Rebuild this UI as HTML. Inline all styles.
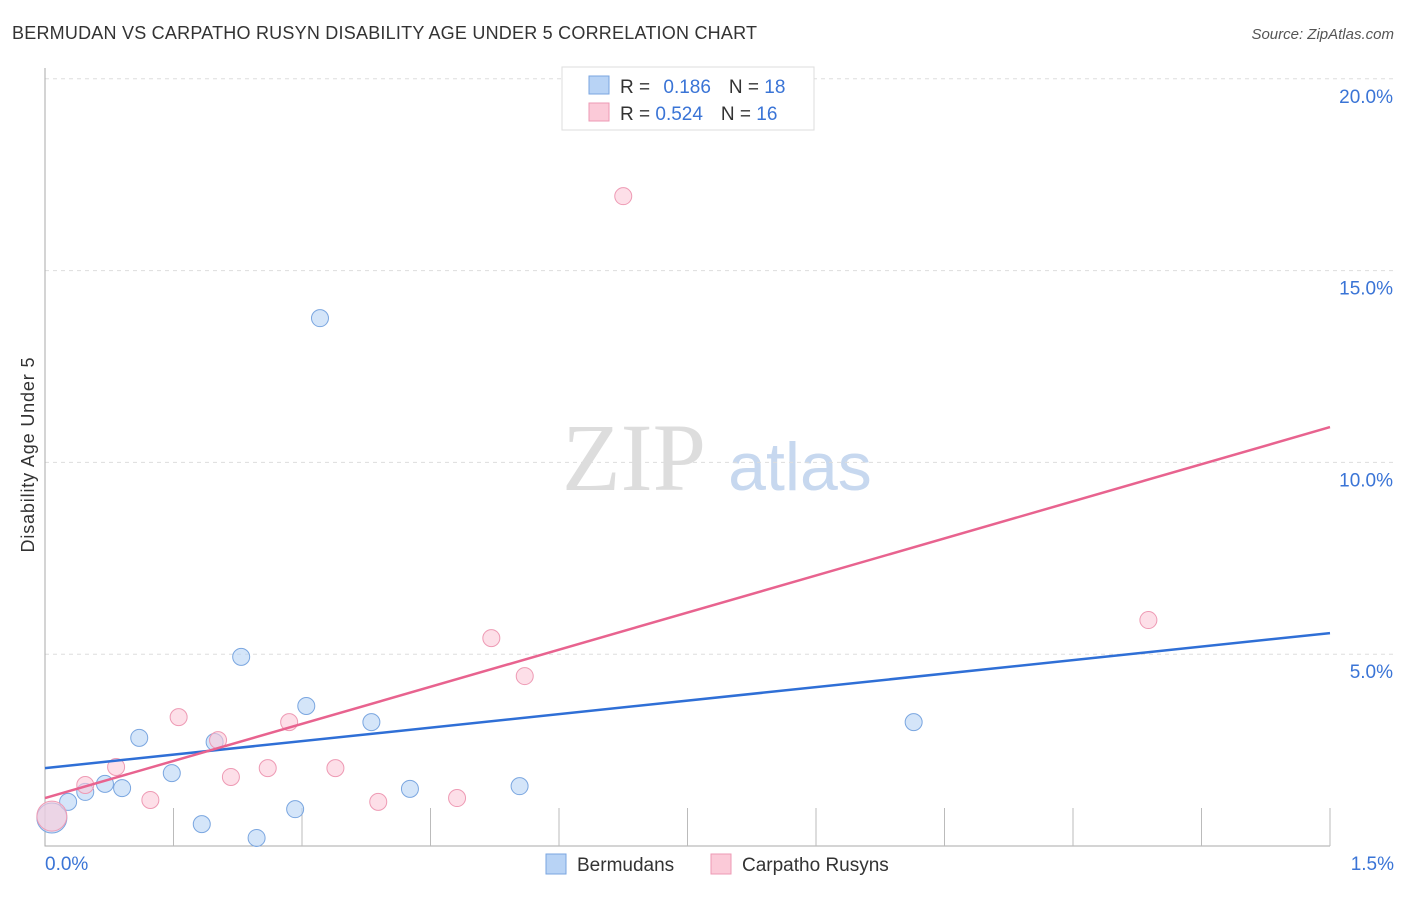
<!DOCTYPE html>
<html><head><meta charset="utf-8"><style>
body{margin:0;background:#fff;font-family:"Liberation Sans",sans-serif}
</style></head><body>
<svg width="1406" height="892" xmlns="http://www.w3.org/2000/svg" font-family="Liberation Sans, sans-serif">
<text x="12" y="39" font-size="18" fill="#333" textLength="745">BERMUDAN VS CARPATHO RUSYN DISABILITY AGE UNDER 5 CORRELATION CHART</text>
<text x="1394" y="39" font-size="15" fill="#555" font-style="italic" text-anchor="end">Source: ZipAtlas.com</text>
<text x="634" y="490" font-size="96" fill="#ddd" font-family="Liberation Serif, serif" text-anchor="middle">ZIP</text>
<text x="800" y="490" font-size="68" fill="#c7d8ef" text-anchor="middle">atlas</text>
<text transform="translate(34,455) rotate(-90)" font-size="18" fill="#333" text-anchor="middle" textLength="195">Disability Age Under 5</text>
<g id="grid"></g><g id="axes"></g><g id="marks"></g>
<g>
<rect x="562" y="67" width="252" height="63" fill="#fff" stroke="#ddd"/>
<rect x="589" y="76" width="20" height="18" fill="#b8d3f5" stroke="#7aa6e0"/>
<text x="620" y="93" font-size="19" fill="#333">R = <tspan fill="#3a74d6" dx="8">0.186</tspan><tspan dx="18">N = </tspan><tspan fill="#3a74d6">18</tspan></text>
<rect x="589" y="103" width="20" height="18" fill="#fbcad8" stroke="#ee9ab4"/>
<text x="620" y="120" font-size="19" fill="#333">R = <tspan fill="#3a74d6">0.524</tspan><tspan dx="18">N = </tspan><tspan fill="#3a74d6">16</tspan></text>
</g>
<g>
<rect x="546" y="854" width="20" height="20" fill="#b8d3f5" stroke="#7aa6e0"/>
<text x="577" y="871" font-size="19" fill="#333">Bermudans</text>
<rect x="711" y="854" width="20" height="20" fill="#fbcad8" stroke="#ee9ab4"/>
<text x="742" y="871" font-size="19" fill="#333">Carpatho Rusyns</text>
</g>
</svg>
<script>
const blueX=[0.008,0.027,0.047,0.070,0.090,0.110,0.148,0.183,0.198,0.229,0.247,0.292,0.305,0.321,0.381,0.426,0.554,1.014];
const blueY=[0.73,1.15,1.41,1.62,1.51,2.82,1.90,0.57,2.71,4.93,0.21,0.96,3.65,13.76,3.23,1.49,1.56,3.23];
const pinkX=[0.008,0.047,0.083,0.123,0.156,0.202,0.217,0.260,0.285,0.339,0.389,0.481,0.521,0.560,0.675,1.288];
const pinkY=[0.78,1.59,2.06,1.20,3.36,2.76,1.80,2.03,3.23,2.03,1.15,1.25,5.42,4.43,16.94,5.89];
const blueTrend=[2.03,5.55];
const pinkTrend=[1.25,10.92];
const yTicks=[5,10,15,20];
const xTickLabels=["0.0%","1.5%"];
const NS="http://www.w3.org/2000/svg";
const sx=v=>45+v/1.5*1285, sy=v=>846-v*38.36;
function mk(t,a,p){const e=document.createElementNS(NS,t);for(const k in a)e.setAttribute(k,a[k]);p.appendChild(e);return e;}
const grid=document.getElementById('grid'),axes=document.getElementById('axes'),marks=document.getElementById('marks');
yTicks.forEach(v=>{
 const l=mk('line',{x1:45,x2:1395,y1:sy(v),y2:sy(v),stroke:'#ddd','stroke-dasharray':'4,4'},grid);
 
 
 const t=mk('text',{x:1393,y:sy(v)+24,'font-size':19,fill:'#3a74d6','text-anchor':'end'},axes);
 t.textContent=v.toFixed(1)+'%';
 
 
});
const ax=mk('path',{d:'M45,68V846H1330',stroke:'#aaa',fill:'none'},axes);


for(let i=1;i<=10;i++){const x=sx(i*0.15);const tk=mk('line',{x1:x,x2:x,y1:808,y2:846,stroke:'#bbb'},axes);
 
 }
[[0,45,'start'],[1.5,1394,'end']].forEach((d,i)=>{const t=mk('text',{x:d[1],y:870,'font-size':19,fill:'#3a74d6','text-anchor':d[2]},axes);t.textContent=xTickLabels[i];
 
 });
function pts(X,Y,fill,stroke,name){X.forEach((x,i)=>{const r=i===0?15:8.5;const c=mk('circle',{cx:sx(x),cy:sy(Y[i]),r:r,fill:fill,stroke:stroke,'fill-opacity':0.6},marks);
 
 });}
pts(blueX,blueY,'#b8d3f5','#7aa6e0','bermudan-point');
pts(pinkX,pinkY,'#fbcad8','#ee9ab4','carpatho-rusyn-point');
const bl=mk('line',{x1:sx(0),x2:sx(1.5),y1:sy(blueTrend[0]),y2:sy(blueTrend[1]),stroke:'#2f6fd6','stroke-width':2.5},marks);


const pl=mk('line',{x1:sx(0),x2:sx(1.5),y1:sy(pinkTrend[0]),y2:sy(pinkTrend[1]),stroke:'#e8638f','stroke-width':2.5},marks);


</script>
</body></html>
